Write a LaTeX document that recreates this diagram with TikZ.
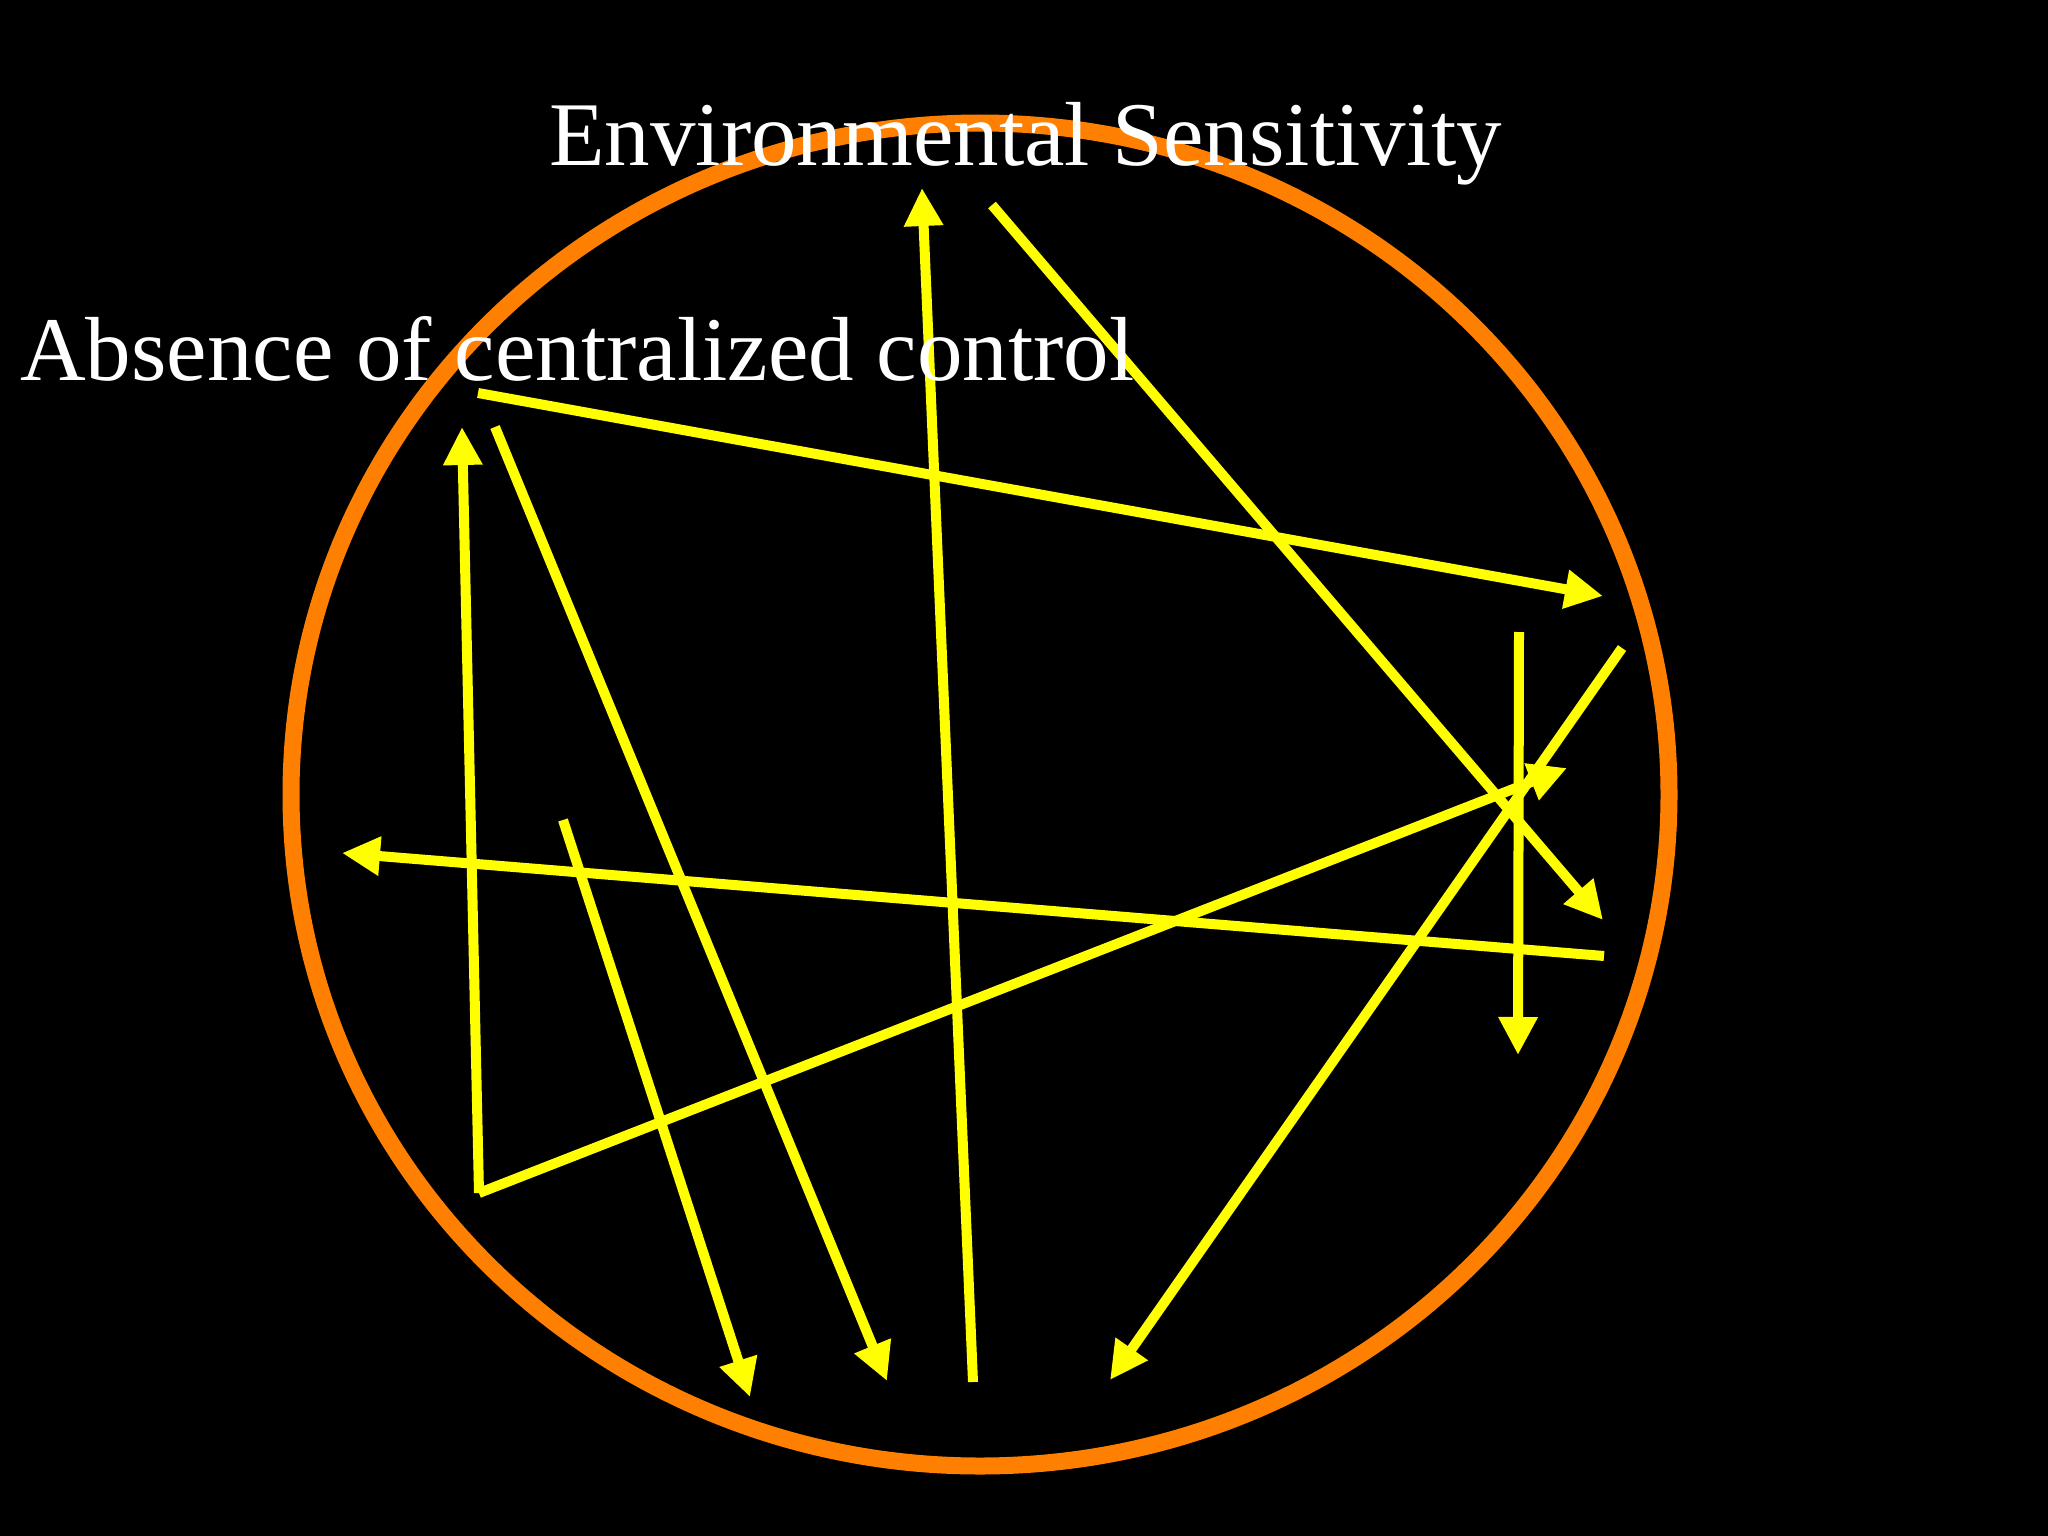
\documentclass[tikz,border=0pt]{standalone}
\usepackage{fontspec}
\setmainfont{Liberation Serif}
\usetikzlibrary{arrows.meta}
\definecolor{ringorange}{RGB}{255,128,0}
\definecolor{arrowyellow}{RGB}{255,255,0}
\tikzset{
  yarrow/.style={draw=arrowyellow, line width=10pt, line cap=butt, line join=miter,
    -{Triangle[length=38pt,width=37pt]}},
  yline/.style={draw=arrowyellow, line width=10pt, line cap=butt, line join=miter},
  ring/.style={draw=ringorange, line width=17pt},
  label/.style={text=white, font=\fontsize{91}{100}\selectfont, inner sep=0pt, anchor=base west}
}
\begin{document}
\begin{tikzpicture}[x=1pt,y=-1pt]
\fill[black] (0,0) rectangle (2048,1536);
\useasboundingbox (0,0) rectangle (2048,1536);
% ring
\draw[ring] (980,794.5) ellipse [x radius=689, y radius=671.5];
% coordinates
\coordinate (a1s) at (478,393);  \coordinate (a1e) at (1603,596);
\coordinate (a2s) at (992,205);  \coordinate (a2e) at (1603,920);
\coordinate (a3s) at (973,1382); \coordinate (a3e) at (922,188);
\coordinate (pc)  at (479,1193); \coordinate (pu) at (462,427); \coordinate (pd) at (1567,768);
\coordinate (a5s) at (495,427);  \coordinate (a5e) at (887,1381);
\coordinate (a6s) at (563,820);  \coordinate (a6e) at (750,1397);
\coordinate (a7s) at (1604,956); \coordinate (a7e) at (342,853);
\coordinate (a8s) at (1519,632); \coordinate (a8e) at (1518,1055);
\coordinate (a9s) at (1622,648); \coordinate (a9e) at (1110,1380);
% arrows
\draw[yarrow] (a1s) -- (a1e);
\draw[yarrow] (a2s) -- (a2e);
\draw[yarrow] (a3s) -- (a3e);
\draw[yarrow] (pc) -- (pu);
\draw[yarrow] (pc) -- (pd);
\draw[yarrow] (a5s) -- (a5e);
\draw[yarrow] (a6s) -- (a6e);
\draw[yarrow] (a7s) -- (a7e);
\draw[yarrow] (a8s) -- (a8e);
\draw[yarrow] (a9s) -- (a9e);
% labels
\node[label] (env) at (549,165) {Environmental Sensitivity};
\node[label] (abs) at (20,380) {Absence of centralized control};
\end{tikzpicture}
\end{document}
